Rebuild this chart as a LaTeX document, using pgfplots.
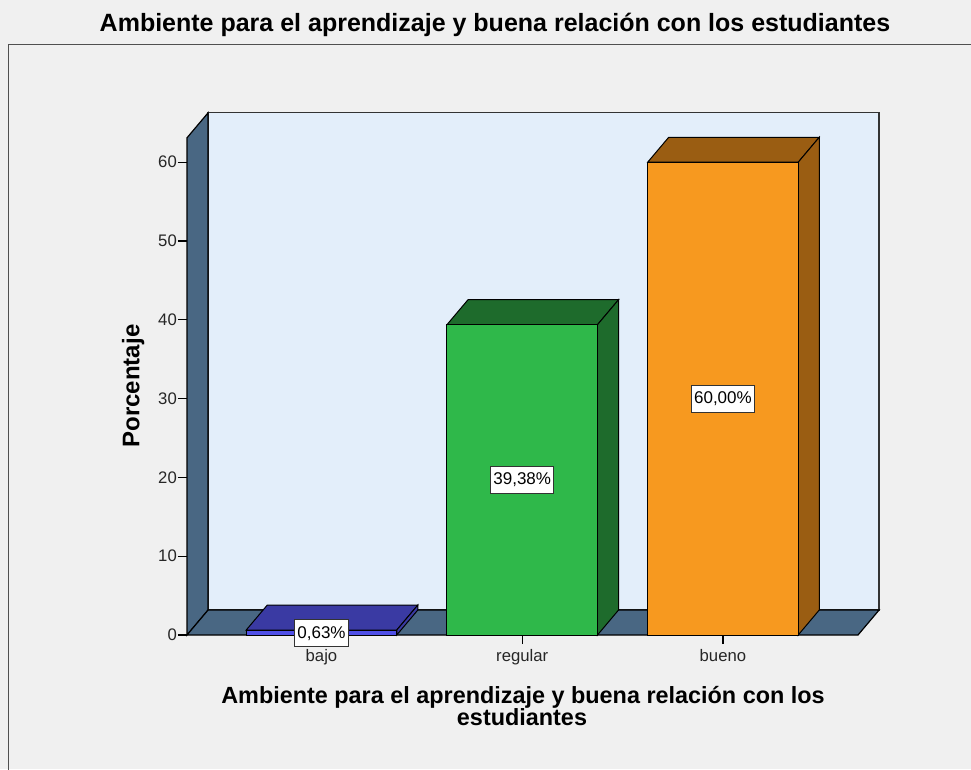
\documentclass[border=0pt]{standalone}
\usepackage{fontspec}
\setmainfont{Liberation Sans}
\usepackage{pgfplots}
\pgfplotsset{compat=1.18}
\definecolor{bgc}{HTML}{F0F0F0}
\definecolor{backwall}{HTML}{E3EEFA}
\definecolor{sidewall}{HTML}{496783}
\definecolor{bluef}{HTML}{4F4FE6}
\definecolor{blued}{HTML}{3A3AA3}
\definecolor{greenf}{HTML}{2FB84A}
\definecolor{greend}{HTML}{1E6B2C}
\definecolor{orangef}{HTML}{F7991F}
\definecolor{oranged}{HTML}{9A5D12}
\definecolor{framec}{HTML}{505050}
\begin{document}
\begin{tikzpicture}[x=1pt,y=1pt]
\useasboundingbox (-187,-134) rectangle (784,635);
\fill[bgc] (-187,-134) rectangle (784,635);
\draw[framec, line width=1.5pt] (-178.5,-140) -- (-178.5,590.5) -- (790,590.5);
\begin{axis}[
  at={(0,0)}, anchor=south west,
  scale only axis, width=671pt, height=497.2pt,
  xmin=0.33, xmax=3.673, ymin=0, ymax=63.1,
  clip=false,
  axis line style={draw=none},
  xtick={1,2,3}, xticklabels={bajo,regular,bueno},
  ytick={0,10,20,30,40,50,60},
  xtick pos=bottom, ytick pos=left,
  tick align=outside, major tick length=9pt,
  every tick/.style={black, line width=1.2pt},
  /pgf/number format/assume math mode=true,
  tick label style={font=\fontsize{16.7}{20}\selectfont, text=black!85},
  yticklabel style={inner sep=1pt},
  xticklabel style={inner sep=1pt, yshift=-4pt},
]
% walls
\filldraw[fill=backwall, draw=black!80, line width=1.2pt] (axis cs:0.435,3.17) rectangle (axis cs:3.778,66.27);
\filldraw[fill=sidewall, draw=black, line width=1.2pt] (axis cs:0.33,0) -- (axis cs:0.435,3.17) -- (axis cs:0.435,66.27) -- (axis cs:0.33,63.1) -- cycle;
\filldraw[fill=sidewall, draw=black, line width=1.2pt] (axis cs:0.33,0) -- (axis cs:3.673,0) -- (axis cs:3.778,3.17) -- (axis cs:0.435,3.17) -- cycle;

% bajo 0.63
\addplot[fill=blued, draw=black, line width=1pt] coordinates {(0.625,0.63) (1.375,0.63) (1.48,3.80) (0.73,3.80)} -- cycle;
\addplot[fill=blued, draw=black, line width=1pt] coordinates {(1.375,0) (1.48,3.17) (1.48,3.80) (1.375,0.63)} -- cycle;
\addplot[ybar, bar width=0.75, bar shift=0pt, fill=bluef, draw=black, line width=1pt] coordinates {(1,0.63)};

% regular 39.38
\addplot[fill=greend, draw=black, line width=1pt] coordinates {(1.625,39.38) (2.375,39.38) (2.48,42.55) (1.73,42.55)} -- cycle;
\addplot[fill=greend, draw=black, line width=1pt] coordinates {(2.375,0) (2.48,3.17) (2.48,42.55) (2.375,39.38)} -- cycle;
\addplot[ybar, bar width=0.75, bar shift=0pt, fill=greenf, draw=black, line width=1pt] coordinates {(2,39.38)};

% bueno 60.00
\addplot[fill=oranged, draw=black, line width=1pt] coordinates {(2.625,60) (3.375,60) (3.48,63.17) (2.73,63.17)} -- cycle;
\addplot[fill=oranged, draw=black, line width=1pt] coordinates {(3.375,0) (3.48,3.17) (3.48,63.17) (3.375,60)} -- cycle;
\addplot[ybar, bar width=0.75, bar shift=0pt, fill=orangef, draw=black, line width=1pt] coordinates {(3,60)};

% value labels
\tikzset{vl/.style={fill=white, draw=black!80, line width=1pt, inner xsep=2.5pt, minimum height=27pt, font=\fontsize{17}{20}\selectfont}}
\node[vl] at (axis cs:1,0.2) {0,63\%};
\node[vl] at (axis cs:2,19.69) {39,38\%};
\node[vl] at (axis cs:3,30) {60,00\%};
\end{axis}
% title and labels
\node[anchor=base, font=\bfseries\fontsize{25}{30}\selectfont] at (308,603.3) {Ambiente para el aprendizaje y buena relación con los estudiantes};
\node[anchor=base, font=\bfseries\fontsize{23.4}{28}\selectfont] at (336,-68) {Ambiente para el aprendizaje y buena relación con los};
\node[anchor=base, font=\bfseries\fontsize{23.4}{28}\selectfont] at (335,-90) {estudiantes};
\node[anchor=base, rotate=90, font=\bfseries\fontsize{24}{28}\selectfont] at (-47.7,249) {Porcentaje};
\end{tikzpicture}
\end{document}
